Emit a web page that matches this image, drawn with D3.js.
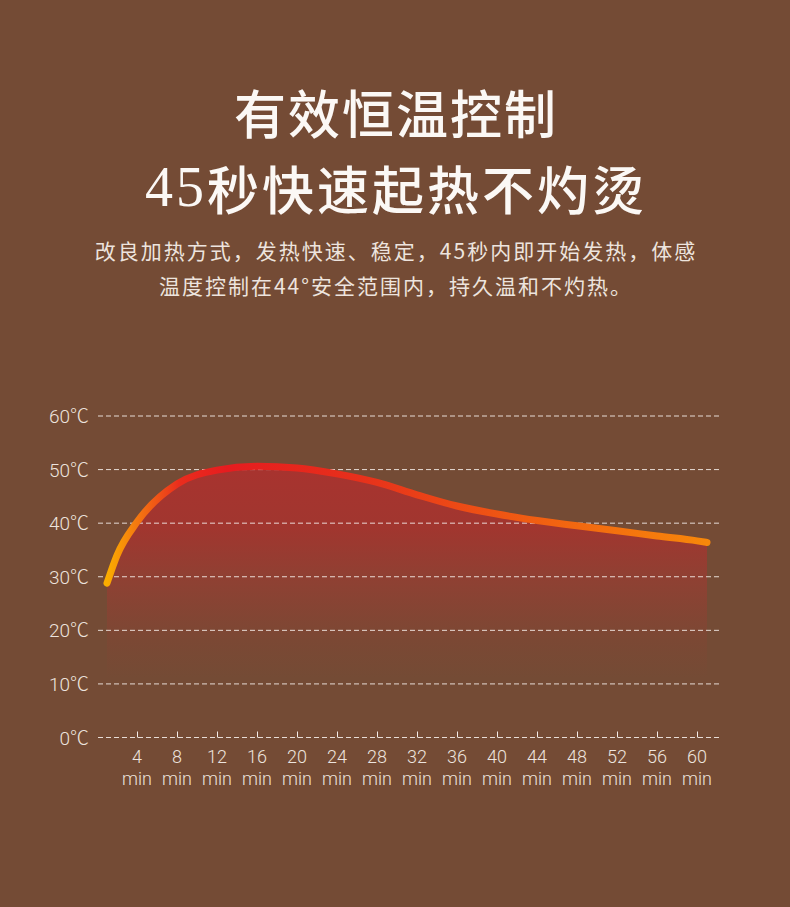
<!DOCTYPE html>
<html>
<head>
<meta charset="utf-8">
<script src="https://cdn.jsdelivr.net/npm/d3@7"></script>
<style>
  html, body { margin: 0; padding: 0; background: #744b35; }
  svg { display: block; }
</style>
</head>
<body>
<div id="chart"></div>
<script>
// texts
const titleLines = ['有效恒温控制', '45秒快速起热不灼烫'];
const descLines = [
  '改良加热方式，发热快速、稳定，45秒内即开始发热，体感',
  '温度控制在44°安全范围内，持久温和不灼热。'
];

// axis ticks
const yTicks = [0, 10, 20, 30, 40, 50, 60];
const xTicks = [4, 8, 12, 16, 20, 24, 28, 32, 36, 40, 44, 48, 52, 56, 60];

// curve (minutes, °C)
const minutes = [1, 2, 4, 8, 12, 16, 20, 24, 28, 32, 36, 40, 44, 48, 52, 56, 60, 61];
const temps   = [28.8, 34.0, 40.2, 47.3, 49.9, 50.6, 50.3, 49.2, 47.6, 45.3, 43.2, 41.7, 40.5, 39.5, 38.6, 37.6, 36.7, 36.4];

const W = 790, H = 907;
const bg = '#744b35';
const textCol = '#ede4de';
const latin = 'Roboto, "Liberation Sans", "Noto Sans CJK SC", sans-serif';

const svg = d3.select('#chart').append('svg')
  .attr('width', W).attr('height', H);

svg.append('rect').attr('width', W).attr('height', H).attr('fill', bg);

// headline
const title = svg.append('g')
  .attr('fill', '#fbf8f5')
  .attr('text-anchor', 'middle')
  .style('font-family', '"Noto Sans CJK SC", sans-serif')
  .style('font-size', '52px')
  .style('font-weight', 500);

title.append('text').attr('x', W / 2 + 1).attr('y', 111)
  .attr('dominant-baseline', 'central')
  .style('letter-spacing', '2px')
  .text(titleLines[0]);

const t2 = title.append('text').attr('x', W / 2 + 1).attr('y', 187)
  .attr('dominant-baseline', 'central')
  .style('letter-spacing', '3px');
t2.append('tspan')
  .style('font-family', '"Liberation Serif", "DejaVu Serif", serif')
  .style('font-size', '56px')
  .text(titleLines[1].slice(0, 2));
t2.append('tspan').text(titleLines[1].slice(2));

svg.append('g')
  .attr('fill', textCol)
  .attr('text-anchor', 'middle')
  .style('font-family', '"Noto Sans CJK SC", sans-serif')
  .style('font-size', '21px')
  .style('letter-spacing', '2px')
  .selectAll('text').data(descLines).join('text')
  .attr('x', W / 2 + 1)
  .attr('y', (d, i) => 250 + i * 35)
  .attr('dominant-baseline', 'central')
  .text(d => d);

// scales
const x = d3.scaleLinear().domain([0, 60]).range([97, 697]);
const y = d3.scaleLinear().domain([0, 60]).range([737.5, 416]);
const gridRight = 720;

const defs = svg.append('defs');

// area fill fades into the background
const areaGrad = defs.append('linearGradient')
  .attr('id', 'areaGrad')
  .attr('gradientUnits', 'userSpaceOnUse')
  .attr('x1', 0).attr('x2', 0)
  .attr('y1', y(51)).attr('y2', y(11));
areaGrad.selectAll('stop').data([
  { o: 0, c: '#a8332f' },
  { o: 0.3, c: '#a1362f' },
  { o: 0.55, c: '#8e4133' },
  { o: 0.82, c: '#7b4834' },
  { o: 1, c: bg }
]).join('stop')
  .attr('offset', d => d.o)
  .attr('stop-color', d => d.c);

// stroke gradient along x
const lineGrad = defs.append('linearGradient')
  .attr('id', 'lineGrad')
  .attr('gradientUnits', 'userSpaceOnUse')
  .attr('x1', x(1)).attr('x2', x(61))
  .attr('y1', 0).attr('y2', 0);
lineGrad.selectAll('stop').data([
  { o: 0, c: '#fbad00' },
  { o: 0.05, c: '#f47810' },
  { o: 0.12, c: '#ea2d1d' },
  { o: 0.2, c: '#e61c1f' },
  { o: 0.42, c: '#e7301b' },
  { o: 0.7, c: '#f05c12' },
  { o: 1, c: '#f7870a' }
]).join('stop')
  .attr('offset', d => d.o)
  .attr('stop-color', d => d.c);

const data = minutes.map((m, i) => ({ m, t: temps[i] }));

svg.append('path')
  .datum(data)
  .attr('fill', 'url(#areaGrad)')
  .attr('d', d3.area()
    .x(d => x(d.m))
    .y0(y(0))
    .y1(d => y(d.t))
    .curve(d3.curveMonotoneX));

// dashed grid
const grid = svg.append('g')
  .attr('stroke', '#f4ece8')
  .attr('stroke-width', 1)
  .attr('stroke-dasharray', '5,3')
  .attr('opacity', 0.9);
grid.selectAll('line').data(yTicks).join('line')
  .attr('x1', 98).attr('x2', gridRight)
  .attr('y1', d => y(d)).attr('y2', d => y(d));

// small ticks on the zero line
svg.append('g')
  .attr('stroke', '#f4ece8')
  .attr('stroke-width', 1)
  .selectAll('line').data(xTicks).join('line')
  .attr('x1', d => x(d) + 0.5).attr('x2', d => x(d) + 0.5)
  .attr('y1', y(0)).attr('y2', y(0) - 6);

// curve
svg.append('path')
  .datum(data)
  .attr('fill', 'none')
  .attr('stroke', 'url(#lineGrad)')
  .attr('stroke-width', 7)
  .attr('stroke-linecap', 'round')
  .attr('d', d3.line()
    .x(d => x(d.m))
    .y(d => y(d.t))
    .curve(d3.curveMonotoneX));

// y labels
svg.append('g')
  .attr('fill', textCol)
  .attr('text-anchor', 'end')
  .style('font-family', latin)
  .style('font-size', '19px')
  .style('font-weight', 300)
  .selectAll('text').data(yTicks).join('text')
  .attr('x', 89)
  .attr('y', d => y(d) + 7)
  .text(d => d + '℃');

// x labels
const xl = svg.append('g')
  .attr('fill', textCol)
  .attr('text-anchor', 'middle')
  .style('font-family', latin)
  .style('font-size', '18px')
  .style('font-weight', 300)
  .selectAll('g').data(xTicks).join('g')
  .attr('transform', d => `translate(${x(d)},0)`);
xl.append('text').attr('y', 763).text(d => d);
xl.append('text').attr('y', 785).text('min');
</script>
</body>
</html>
